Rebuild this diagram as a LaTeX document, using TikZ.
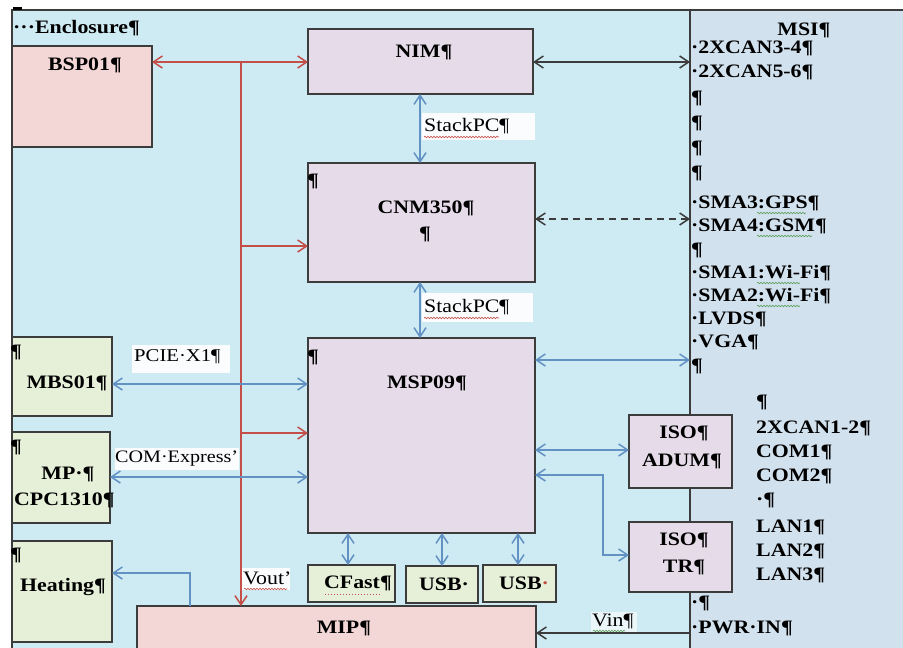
\documentclass[tikz,border=0pt]{standalone}
\usepackage{fontspec}
\setmainfont{Liberation Serif}[FakeStretch=1.15]
\usetikzlibrary{arrows.meta,decorations.pathmorphing}
\definecolor{bgL}{RGB}{206,234,242}
\definecolor{bgR}{RGB}{210,225,238}
\definecolor{pinkF}{RGB}{243,214,214}
\definecolor{lavF}{RGB}{229,219,233}
\definecolor{grnF}{RGB}{230,239,216}
\definecolor{redL}{RGB}{196,78,72}
\definecolor{bluL}{RGB}{98,146,196}
\definecolor{frameC}{RGB}{60,60,60}
\definecolor{spellG}{RGB}{90,160,90}
\begin{document}
\begin{tikzpicture}[x=1pt,y=-1pt,
  box/.style={draw=frameC,line width=1.6pt,inner sep=0pt,outer sep=0pt,anchor=north west},
  pinkbox/.style={box,fill=pinkF},
  lavbox/.style={box,fill=lavF},
  grnbox/.style={box,fill=grnF},
  wbox/.style={fill=white,fill opacity=0.9,inner sep=0pt,outer sep=0pt,anchor=north west},
  lbl/.style={font=\fontsize{19}{22}\selectfont\bfseries,inner sep=0pt,text=black},
  lblr/.style={font=\fontsize{19}{22}\selectfont,inner sep=0pt,text=black},
  redln/.style={draw=redL,line width=1.5pt},
  bluln/.style={draw=bluL,line width=1.5pt},
  blkln/.style={draw=frameC,line width=1.5pt},
  >={Straight Barb[length=9pt,width=12pt]},
  spell/.style={line width=0.6pt,decorate,decoration={snake,amplitude=0.8pt,segment length=3pt}}
]
\useasboundingbox (0,0) rectangle (903,648);
\clip (0,0) rectangle (903,648);
% panels
\fill[bgL] (12,10) rectangle (690,648);
\fill[bgR] (690,10) rectangle (903,648);
\draw[blkln] (12,648) -- (12,10) -- (903,10);
\draw[blkln] (690,10) -- (690,648);
\draw[line width=2.5pt,black] (13,8.5) -- (22,8.5);

% boxes
\node[pinkbox,minimum width=140,minimum height=101] (BSP) at (12,46) {};
\node[lavbox,minimum width=225,minimum height=65] (NIM) at (308,29) {};
\node[lavbox,minimum width=227,minimum height=119] (CNM) at (308,163) {};
\node[lavbox,minimum width=227,minimum height=195] (MSP) at (308,338) {};
\node[grnbox,minimum width=87,minimum height=37] (CF) at (308,565) {};
\node[grnbox,minimum width=72,minimum height=37] (USBa) at (406,566) {};
\node[grnbox,minimum width=73,minimum height=37] (USBb) at (483,565) {};
\node[pinkbox,minimum width=399,minimum height=60] (MIP) at (137,606) {};
\node[lavbox,minimum width=103,minimum height=73] (ISOa) at (629,415) {};
\node[lavbox,minimum width=103,minimum height=70] (ISOb) at (629,522) {};
\node[grnbox,minimum width=100,minimum height=79] (MBS) at (12,337) {};
\node[grnbox,minimum width=98,minimum height=91] (MP) at (12,432) {};
\node[grnbox,minimum width=100,minimum height=101] (HEAT) at (12,541) {};

% box texts
\node[lbl,anchor=west] (tEnc) at (13,28) {···Enclosure¶};
\node[lbl] (tBSP) at (85,65) {BSP01¶};
\node[lbl] (tNIM) at (424,52) {NIM¶};
\node[lbl] (tCNMp) at (313,181) {¶};
\node[lbl] (tCNM) at (426,208) {CNM350¶};
\node[lbl] (tCNMq) at (425,234) {¶};
\node[lbl] (tMSPp) at (313,357) {¶};
\node[lbl] (tMSP) at (427,383) {MSP09¶};
\node[lbl] (tCF) at (358,583) {CFast¶};
\node[lbl] (tUSBa) at (444,584) {USB·};
\node[lbl] (tUSBb) at (524,583) {USB\textcolor{redL}{·}};
\node[lbl] (tMIP) at (344,628) {MIP¶};
\node[lbl] (tISOa1) at (684,433) {ISO¶};
\node[lbl] (tISOa2) at (682,461) {ADUM¶};
\node[lbl] (tISOb1) at (684,540) {ISO¶};
\node[lbl] (tISOb2) at (684,567) {TR¶};
\node[lbl] (tMBSp) at (16,352) {¶};
\node[lbl] (tMBS) at (67,383) {MBS01¶};
\node[lbl] (tMPp) at (16,447) {¶};
\node[lbl] (tMP1) at (68,474) {MP·¶};
\node[lbl,anchor=west] (tMP2) at (14,500) {CPC1310¶};
\node[lbl] (tHEATp) at (16,555) {¶};
\node[lbl] (tHEAT) at (63,587) {Heating¶};

% right panel texts
\node[lbl] (rMSI) at (804,30) {MSI¶};
\node[lbl,anchor=west] (r1) at (691,48) {·2XCAN3-4¶};
\node[lbl,anchor=west] (r2) at (691,72) {·2XCAN5-6¶};
\node[lbl,anchor=west] (r3) at (691,98) {¶};
\node[lbl,anchor=west] (r4) at (691,123) {¶};
\node[lbl,anchor=west] (r5) at (691,148) {¶};
\node[lbl,anchor=west] (r6) at (691,173) {¶};
\node[lbl,anchor=west] (r7) at (691,203) {·SMA3:GPS¶};
\node[lbl,anchor=west] (r8) at (691,226) {·SMA4:GSM¶};
\node[lbl,anchor=west] (r9) at (691,250) {¶};
\node[lbl,anchor=west] (r10) at (691,273) {·SMA1:Wi-Fi¶};
\node[lbl,anchor=west] (r11) at (691,296) {·SMA2:Wi-Fi¶};
\node[lbl,anchor=west] (r12) at (691,319) {·LVDS¶};
\node[lbl,anchor=west] (r13) at (691,342) {·VGA¶};
\node[lbl,anchor=west] (r14) at (691,366) {¶};
\node[lbl,anchor=west] (c1) at (756,402) {¶};
\node[lbl,anchor=west] (c2) at (756,428) {2XCAN1-2¶};
\node[lbl,anchor=west] (c3) at (756,452) {COM1¶};
\node[lbl,anchor=west] (c4) at (756,476) {COM2¶};
\node[lbl,anchor=west] (c5) at (756,500) {·¶};
\node[lbl,anchor=west] (c6) at (756,527) {LAN1¶};
\node[lbl,anchor=west] (c7) at (756,551) {LAN2¶};
\node[lbl,anchor=west] (c8) at (756,575) {LAN3¶};
\node[lbl,anchor=west] (r15) at (691,603) {·¶};
\node[lbl,anchor=west] (r16) at (691,628) {·PWR·IN¶};

% coordinates
\coordinate (rj) at (241,62);
\coordinate (r2c) at (241,246);
\coordinate (r3c) at (241,433);
\coordinate (yPCIE) at (0,384);
\coordinate (yCOM) at (0,477);
\coordinate (h1) at (190,573);
\coordinate (dNIM) at (690,62);
\coordinate (dCNM) at (690,219);
\coordinate (dMSP) at (690,360);
\coordinate (yADUM) at (0,450);
\coordinate (tr1) at (603,475);
\coordinate (tr2) at (603,555);
\coordinate (dVin) at (690,633);
\coordinate (xStack) at (420,0);
\coordinate (xCF) at (348,0);
\coordinate (xUa) at (442,0);
\coordinate (xUb) at (518,0);

% red connectors
\draw[redln,->] (rj) -- (BSP.east|-rj);
\draw[redln,->] (rj) -- (NIM.west|-rj);
\draw[redln,->] (rj) -- (rj|-MIP.north);
\draw[redln,->] (r2c) -- (CNM.west|-r2c);
\draw[redln,->] (r3c) -- (MSP.west|-r3c);

% label boxes (white)
\node[wbox,minimum width=113,minimum height=27] (sp1) at (422,113) {};
\node[wbox,minimum width=111,minimum height=29] (sp2) at (422,293) {};
\node[wbox,minimum width=98,minimum height=28] (pcie) at (132,345) {};
\node[wbox,minimum width=124,minimum height=22] (come) at (115,448) {};
\node[wbox,minimum width=48,minimum height=22] (vout) at (242,568) {};
\node[wbox,minimum width=46,minimum height=20,fill opacity=0.6] (vin) at (591,612) {};
\node[lblr,anchor=west] (sp1t) at (424,126.5) {StackPC¶};
\node[lblr,anchor=west] (sp2t) at (424,307.5) {StackPC¶};
\node[lblr,anchor=west,font=\fontsize{18}{21}\selectfont] (pciet) at (134,357) {PCIE·X1¶};
\node[lblr,anchor=west,font=\fontsize{17.5}{21}\selectfont] (comet) at (115,459) {COM·Express’};
\node[lblr,anchor=west] (voutt) at (243,578) {Vout’};
\node[lblr,anchor=west] (vint) at (592,621) {Vin¶};

% blue connectors
\draw[bluln,<->] (MBS.east|-yPCIE) -- (MSP.west|-yPCIE);
\draw[bluln,<->] (MP.east|-yCOM) -- (MSP.west|-yCOM);
\draw[bluln,->] (h1|-MIP.north) -- (h1) -- (HEAT.east|-h1);
\draw[bluln,<->] (NIM.south-|xStack) -- (CNM.north-|xStack);
\draw[bluln,<->] (CNM.south-|xStack) -- (MSP.north-|xStack);
\draw[bluln,<->] (MSP.east|-dMSP) -- (dMSP);
\draw[bluln,<->] (MSP.east|-yADUM) -- (ISOa.west|-yADUM);
\draw[bluln,<->] (MSP.east|-tr1) -- (tr1) -- (tr2) -- (ISOb.west|-tr2);
\draw[bluln,<->] (MSP.south-|xCF) -- (CF.north-|xCF);
\draw[bluln,<->] (MSP.south-|xUa) -- (USBa.north-|xUa);
\draw[bluln,<->] (MSP.south-|xUb) -- (USBb.north-|xUb);

% black connectors
\draw[blkln,<->] (NIM.east|-dNIM) -- (dNIM);
\draw[blkln,<->,dash pattern=on 7pt off 5pt] (CNM.east|-dCNM) -- (dCNM);
\draw[blkln,->] (dVin) -- (MIP.east|-dVin);

% spelling marks
\draw[spell,redL] (424,137) -- (499,137);
\draw[spell,redL] (424,318) -- (499,318);
\draw[spell,redL] (244,589) -- (287,589);
\draw[redL,line width=1pt,dotted] (325,594) -- (382,594);
\draw[spell,spellG] (757,213) -- (806,213);
\draw[spell,spellG] (757,236) -- (812,236);
\draw[spell,spellG] (757,283) -- (800,283);
\draw[spell,spellG] (757,306) -- (800,306);
\draw[spell,spellG] (593,631) -- (625,631);
\end{tikzpicture}
\end{document}
